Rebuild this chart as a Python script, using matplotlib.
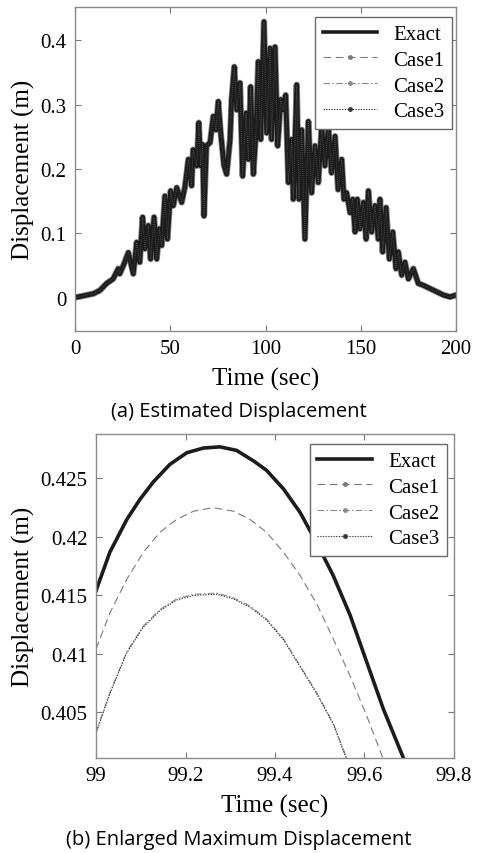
import numpy as np
import matplotlib
matplotlib.use("Agg")
import matplotlib.pyplot as plt
from matplotlib.lines import Line2D
from matplotlib.ticker import FormatStrFormatter

# (a) full record (peaks and troughs of the dense band)
time_full = [0, 9.6, 13, 16.6, 20, 22.7, 23.5, 25.4, 28, 30.6, 32.4, 34, 35.5, 36.7, 38.5,
             39.7, 41.5, 42.9, 44.3, 45.5, 47.2, 48.5, 50.2, 51.6, 53.4, 56, 57.7, 59.5,
             61.2, 62, 63.9, 65, 66, 67, 67.7, 69, 70.9, 72.6, 74, 75.2, 76.5, 78.2, 79.6,
             81.4, 82.2, 83.6, 84.9, 86.6, 88, 89.8, 91, 92.2, 93.6, 95, 96.2, 97.5, 99.2,
             100.6, 102.4, 103.2, 105, 106.4, 108, 109.4, 110.6, 112, 113.7, 114.6, 116.4,
             117.6, 119, 120.7, 122.5, 124.2, 126, 127.7, 129.5, 131.2, 133, 134.7, 136.5,
             138.1, 140, 141.2, 142.6, 144.4, 145.8, 147, 148.2, 149.6, 151.4, 152.8, 154,
             155.7, 157.5, 159.2, 160.1, 161.5, 163.3, 165, 166.8, 168.5, 169.7, 171.5,
             173.2, 175, 177.6, 180.2, 182.9, 186.4, 189.9, 193.4, 196.9, 200]
disp_full = [0, 0.006, 0.011, 0.022, 0.029, 0.045, 0.037, 0.05, 0.07, 0.037, 0.086, 0.055,
             0.125, 0.076, 0.112, 0.06, 0.125, 0.06, 0.107, 0.081, 0.158, 0.091, 0.166,
             0.143, 0.171, 0.148, 0.172, 0.215, 0.174, 0.23, 0.205, 0.272, 0.205, 0.238,
             0.127, 0.236, 0.241, 0.282, 0.261, 0.305, 0.256, 0.205, 0.192, 0.246, 0.308,
             0.359, 0.292, 0.334, 0.189, 0.287, 0.215, 0.328, 0.192, 0.256, 0.367, 0.246,
             0.429, 0.256, 0.388, 0.246, 0.39, 0.236, 0.308, 0.292, 0.315, 0.179, 0.246,
             0.153, 0.331, 0.153, 0.261, 0.091, 0.274, 0.163, 0.236, 0.179, 0.266, 0.205,
             0.266, 0.194, 0.251, 0.168, 0.215, 0.153, 0.163, 0.132, 0.153, 0.102, 0.153,
             0.107, 0.148, 0.091, 0.166, 0.102, 0.143, 0.091, 0.153, 0.071, 0.14, 0.06,
             0.102, 0.045, 0.071, 0.035, 0.055, 0.029, 0.045, 0.022, 0.019, 0.014, 0.009,
             0.004, 0.001, 0.004]

# (b) zoom around the maximum
time_exact = [99.0, 99.031, 99.069, 99.098, 99.128, 99.165, 99.203, 99.240, 99.277, 99.314,
              99.352, 99.381, 99.419, 99.456, 99.493, 99.530, 99.568, 99.605, 99.642, 99.687]
disp_exact = [0.4154, 0.4187, 0.4215, 0.4232, 0.4247, 0.4262, 0.4272, 0.4276, 0.4277, 0.4274,
              0.4265, 0.4257, 0.4241, 0.4221, 0.4195, 0.4167, 0.4133, 0.4093, 0.4053, 0.4011]
time_case1 = [99.0, 99.031, 99.069, 99.106, 99.143, 99.180, 99.218, 99.262, 99.307, 99.344,
              99.381, 99.419, 99.456, 99.493, 99.530, 99.568, 99.605, 99.641]
disp_case1 = [0.4104, 0.4135, 0.4164, 0.4187, 0.4204, 0.4215, 0.4222, 0.4225, 0.4222, 0.4215,
              0.4204, 0.4187, 0.4167, 0.4143, 0.4113, 0.4081, 0.4047, 0.4011]
time_case23 = [99.0, 99.031, 99.069, 99.106, 99.143, 99.180, 99.218, 99.270, 99.307, 99.344,
               99.381, 99.419, 99.456, 99.493, 99.530, 99.560]
disp_case2 = [0.4033, 0.4067, 0.4102, 0.4124, 0.4138, 0.4147, 0.4151, 0.4152, 0.4148, 0.4141,
              0.4130, 0.4113, 0.4090, 0.4067, 0.4041, 0.4011]
disp_case3 = [0.4032, 0.4066, 0.4101, 0.4123, 0.4137, 0.4146, 0.4150, 0.4151, 0.4147, 0.4140,
              0.4129, 0.4112, 0.4089, 0.4066, 0.4040, 0.4010]

labels = ["Exact", "Case1", "Case2", "Case3"]

serif = "Liberation Serif"
plt.rcParams["font.family"] = serif

fig = plt.figure(figsize=(4.78, 8.54), dpi=100)
ax1 = fig.add_axes([75 / 478, 1 - 332 / 854, 381 / 478, 324 / 854])
ax2 = fig.add_axes([96 / 478, 1 - 759 / 854, 358 / 478, 324 / 854])

styles = [
    dict(color="#1c1c1c", lw=2.6, ls="-"),
    dict(color="#7a7a7a", lw=0.8, ls=(0, (7, 4))),
    dict(color="#8c8c8c", lw=0.8, ls=(0, (6, 2, 1.5, 2))),
    dict(color="#3a3a3a", lw=0.8, ls=(0, (1.2, 1.2))),
]

ax1.plot(time_full, disp_full, color="#8a8a8a", lw=4.6)
ax1.plot(time_full, disp_full, color="#1c1c1c", lw=3.4)
ax1.plot(time_full, disp_full, color="#555555", lw=0.6, ls=(0, (1, 1.5)))

ax2.plot(time_exact, disp_exact, **styles[0])
ax2.plot(time_case1, disp_case1, **styles[1])
ax2.plot(time_case23, disp_case2, **styles[2])
ax2.plot(time_case23, disp_case3, **styles[3])

handles = []
for lab, st in zip(labels, styles):
    if lab == "Exact":
        handles.append(Line2D([], [], **st))
    else:
        handles.append(Line2D([], [], marker=".", markersize=5, markerfacecolor=st["color"],
                              markeredgecolor=st["color"], **st))

ax1.set_xlim(0, 200)
ax1.set_ylim(-0.052, 0.452)
ax1.set_xticks([0, 50, 100, 150, 200])
ax1.set_yticks([0, 0.1, 0.2, 0.3, 0.4])

ax2.set_xlim(99, 99.8)
ax2.set_ylim(0.4011, 0.4288)
ax2.set_xticks([99, 99.2, 99.4, 99.6, 99.8])
ax2.set_yticks([0.405, 0.41, 0.415, 0.42, 0.425])

for ax, anchor in [(ax1, (0.9895, 0.969)), (ax2, (0.98, 0.969))]:
    ax.xaxis.set_major_formatter(FormatStrFormatter("%g"))
    ax.yaxis.set_major_formatter(FormatStrFormatter("%g"))
    ax.tick_params(direction="in", top=True, right=True, length=4, width=0.8,
                   color="#777777", labelsize=15, pad=6)
    for lbl in ax.get_xticklabels() + ax.get_yticklabels():
        lbl.set_fontfamily(serif)
    for sp in ax.spines.values():
        sp.set_color("#8a8a8a")
        sp.set_linewidth(1.0)
    ax.set_xlabel("Time (sec)", fontsize=18, labelpad=6)
    ax.set_ylabel("Displacement (m)", fontsize=18, labelpad=4)
    leg = ax.legend(handles, labels, loc="upper right", bbox_to_anchor=anchor,
                    borderaxespad=0, fontsize=15, handlelength=2.6, handletextpad=0.8,
                    labelspacing=0.3, borderpad=0.35, fancybox=False, framealpha=1,
                    edgecolor="#6a6a6a", numpoints=1)
    leg.get_frame().set_linewidth(1.0)

fig.text(0.5, 1 - 412 / 854, "(a) Estimated Displacement", ha="center", va="center",
         fontsize=14.5, family="Open Sans")
fig.text(0.5, 1 - 840 / 854, "(b) Enlarged Maximum Displacement", ha="center", va="center",
         fontsize=14.5, family="Open Sans")

fig.savefig("out.png", dpi=100)
